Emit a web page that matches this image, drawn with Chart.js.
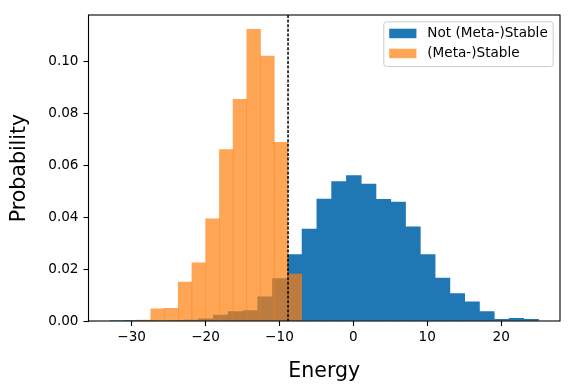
<!DOCTYPE html>
<html><head><meta charset="utf-8">
<script src="https://cdn.jsdelivr.net/npm/chart.js@4.4.1/dist/chart.umd.min.js"></script>
<style>html,body{margin:0;padding:0;background:#fff;}</style>
</head><body>
<canvas id="c" width="575" height="392"></canvas>
<script>
// ---- data ----
const seriesLabels = ['Not (Meta-)Stable', '(Meta-)Stable'];
const blueCenters = [-31.94,-29.94,-27.94,-25.94,-23.94,-21.94,-19.94,-17.94,-15.94,-13.94,-11.94,-9.94,-7.94,-5.94,-3.94,-1.94,0.06,2.06,4.06,6.06,8.06,10.06,12.06,14.06,16.06,18.06,20.06,22.06,24.06];
const blueValues  = [0.0002,0.0001,0.0001,0.0002,0.0003,0.0004,0.0008,0.0023,0.0036,0.0040,0.0093,0.0163,0.0255,0.0354,0.0469,0.0536,0.0559,0.0527,0.0468,0.0457,0.0362,0.0255,0.0165,0.0105,0.0074,0.0036,0.0006,0.0010,0.0006];
const orangeCenters = [-28.34,-26.49,-24.63,-22.77,-20.92,-19.06,-17.20,-15.35,-13.49,-11.63,-9.78,-7.92];
const orangeValues  = [0.0004,0.0047,0.0049,0.0150,0.0224,0.0393,0.0659,0.0853,0.1122,0.1019,0.0687,0.0180];
const threshold = -8.84;
const xTicks = [-30,-20,-10,0,10,20];
const yTicks = [0,0.02,0.04,0.06,0.08,0.10];
const xRange = [-35.84, 27.96];
const yRange = [0, 0.1177];
const xTitle = 'Energy';
const yTitle = 'Probability';

const FONT = '"DejaVu Sans", sans-serif';
const BLUE = '#1f77b4';
const ORANGE = 'rgba(255,127,14,0.7)';

const toPts = (xs, ys) => xs.map((x, i) => ({x: x, y: ys[i]}));

const framePlugin = {
  id: 'frameAndLine',
  afterDatasetsDraw(chart) {
    const ctx = chart.ctx, a = chart.chartArea;
    const px = chart.scales.x.getPixelForValue(threshold);
    ctx.save();
    ctx.strokeStyle = '#000';
    ctx.lineWidth = 1.5;
    ctx.setLineDash([3, 1.6]);
    ctx.beginPath();
    ctx.moveTo(px, a.top);
    ctx.lineTo(px, a.bottom);
    ctx.stroke();
    ctx.setLineDash([]);
    ctx.lineWidth = 1.1;
    ctx.strokeStyle = '#000';
    ctx.strokeRect(a.left, a.top, a.right - a.left, a.bottom - a.top);
    ctx.restore();
  },
  afterDraw(chart) {
    const ctx = chart.ctx, a = chart.chartArea;
    const fs = 13.6;
    ctx.save();
    ctx.font = fs + 'px ' + FONT;
    const items = chart.data.datasets.map(d => ({label: d.label, color: d.backgroundColor}));
    const textW = Math.max(...items.map(i => ctx.measureText(i.label).width));
    const pad = 0.4 * fs, handle = 2 * fs, htp = 0.8 * fs, axPad = 0.5 * fs, rowH = 20;
    const w = pad + handle + htp + textW + pad;
    const h = pad * 2 + rowH * items.length - 6.2;
    const right = a.right - axPad, top = a.top + axPad, left = right - w;
    const r = 0.2 * fs;
    ctx.beginPath();
    ctx.moveTo(left + r, top);
    ctx.arcTo(right, top, right, top + h, r);
    ctx.arcTo(right, top + h, left, top + h, r);
    ctx.arcTo(left, top + h, left, top, r);
    ctx.arcTo(left, top, right, top, r);
    ctx.closePath();
    ctx.fillStyle = 'rgba(255,255,255,0.8)';
    ctx.fill();
    ctx.strokeStyle = '#cccccc';
    ctx.lineWidth = 1;
    ctx.stroke();
    items.forEach((it, i) => {
      const cy = top + 11.4 + i * rowH;
      ctx.fillStyle = it.color;
      ctx.fillRect(left + pad, cy - 4.5, handle, 9.5);
      ctx.fillStyle = '#000';
      ctx.textBaseline = 'middle';
      ctx.textAlign = 'left';
      ctx.fillText(it.label, left + pad + handle + htp, cy);
    });
    ctx.restore();
  }
};

const minusFmt = v => (v < 0 ? '\u2212' + Math.abs(v) : String(v));

new Chart(document.getElementById('c'), {
  type: 'bar',
  data: {
    datasets: [
      {label: seriesLabels[0], data: toPts(blueCenters, blueValues), backgroundColor: BLUE,
       xAxisID: 'x', yAxisID: 'y', order: 1, grouped: false, barPercentage: 1, categoryPercentage: 1, borderWidth: 0},
      {label: seriesLabels[1], data: toPts(orangeCenters, orangeValues), backgroundColor: ORANGE,
       xAxisID: 'x2', yAxisID: 'y', order: 0, grouped: false, barPercentage: 1, categoryPercentage: 1, borderWidth: 0}
    ]
  },
  options: {
    responsive: false,
    animation: false,
    devicePixelRatio: 1,
    layout: {padding: {top: 15, right: 15, left: 0, bottom: 0}},
    plugins: {legend: {display: false}, tooltip: {enabled: false}},
    scales: {
      x: {
        type: 'linear', position: 'bottom', min: xRange[0], max: xRange[1], offset: false,
        afterBuildTicks: ax => { ax.ticks = xTicks.map(v => ({value: v})); },
        afterFit: ax => { ax.height = 71; },
        grid: {display: true, drawOnChartArea: false, drawTicks: true, tickLength: 5, tickWidth: 1.1, tickColor: '#000', offset: false},
        border: {display: false},
        ticks: {color: '#000', font: {family: FONT, size: 13.6}, padding: 3, maxRotation: 0, callback: v => minusFmt(v)},
        title: {display: true, text: xTitle, color: '#000', font: {family: FONT, size: 20.5}, padding: {top: 0, bottom: 8.5}}
      },
      x2: {
        type: 'linear', display: false, min: xRange[0], max: xRange[1], offset: false,
        afterBuildTicks: ax => { ax.ticks = xTicks.map(v => ({value: v})); }
      },
      y: {
        type: 'linear', position: 'left', min: yRange[0], max: yRange[1],
        afterBuildTicks: ax => { ax.ticks = yTicks.map(v => ({value: v})); },
        afterFit: ax => { ax.width = 88.5; },
        grid: {display: true, drawOnChartArea: false, drawTicks: true, tickLength: 5, tickWidth: 1.1, tickColor: '#000'},
        border: {display: false},
        ticks: {color: '#000', font: {family: FONT, size: 13.6}, padding: 5, callback: v => v.toFixed(2)},
        title: {display: true, text: yTitle, color: '#000', font: {family: FONT, size: 20.5}, padding: {top: 7.5, bottom: 0}}
      }
    }
  },
  plugins: [framePlugin]
});
</script>
</body></html>
